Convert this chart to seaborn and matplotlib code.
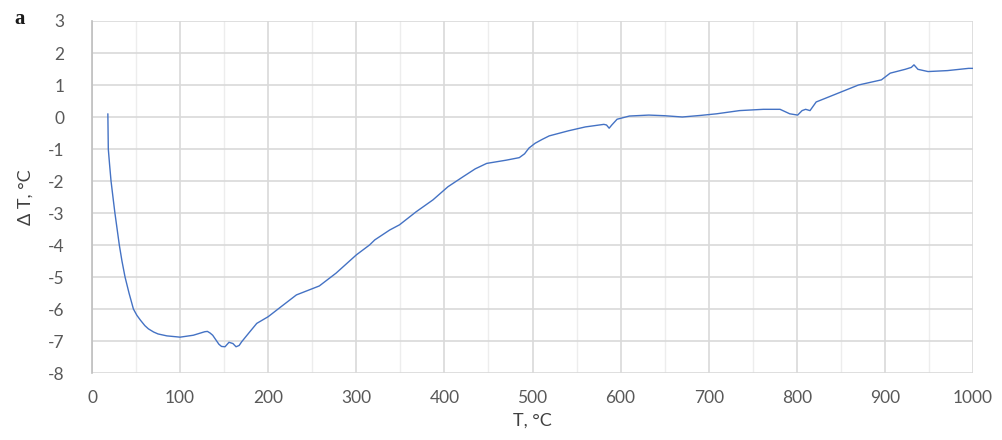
import matplotlib
matplotlib.use("Agg")
import matplotlib.pyplot as plt
import seaborn as sns
import pandas as pd
from matplotlib.ticker import MultipleLocator

# Data (T in degC, delta T in degC)
temperature = [18, 18.5, 20, 21.6, 24, 26, 28.5, 31, 34, 37.5, 42, 47, 51, 55, 60, 64,
               70, 75, 85, 100, 115, 128, 131, 134, 137, 140, 144, 147, 151, 155.5,
               160, 163.5, 167, 170, 178, 187, 200, 215, 232, 245, 258, 277, 300, 315,
               321, 338, 349, 368, 387, 404, 421, 435, 448, 470, 485, 491, 496, 503,
               511, 519, 541, 560, 581, 584, 587, 590, 596, 610, 632, 650, 670, 691,
               709, 735, 762, 781, 792, 801, 806, 810, 815, 822, 832, 851, 870, 896,
               906, 923, 930, 933, 937.5, 949, 971, 995, 1000]
delta_t = [0.1, -1.0, -1.5, -2.0, -2.55, -3.0, -3.5, -4.0, -4.5, -5.0, -5.5, -6.0,
           -6.2, -6.35, -6.52, -6.62, -6.72, -6.78, -6.84, -6.88, -6.82, -6.71,
           -6.7, -6.75, -6.82, -6.94, -7.1, -7.17, -7.18, -7.04, -7.08, -7.18,
           -7.14, -7.02, -6.75, -6.45, -6.24, -5.92, -5.56, -5.42, -5.28, -4.88,
           -4.31, -4.0, -3.84, -3.53, -3.37, -2.96, -2.59, -2.18, -1.87, -1.62,
           -1.45, -1.35, -1.27, -1.15, -0.97, -0.82, -0.7, -0.59, -0.43, -0.31,
           -0.23, -0.25, -0.35, -0.25, -0.07, 0.03, 0.06, 0.04, 0.0, 0.05, 0.1,
           0.2, 0.24, 0.24, 0.1, 0.06, 0.2, 0.24, 0.2, 0.47, 0.58, 0.79, 1.0,
           1.16, 1.37, 1.49, 1.55, 1.63, 1.49, 1.42, 1.45, 1.52, 1.52]

x_ticks = [0, 100, 200, 300, 400, 500, 600, 700, 800, 900, 1000]
y_ticks = [-8, -7, -6, -5, -4, -3, -2, -1, 0, 1, 2, 3]

df = pd.DataFrame({"T": temperature, "dT": delta_t})

sns.set_theme(style="white")
plt.rcParams['font.family'] = ['Lato', 'DejaVu Sans']

fig = plt.figure(figsize=(10.02, 4.40), dpi=100)
ax = fig.add_axes([92 / 1002, 1 - 373 / 440, (973 - 92) / 1002, (373 - 21) / 440])

sns.lineplot(data=df, x="T", y="dT", ax=ax, color="#4472C4", linewidth=1.0)

ax.set_xlim(0, 1000)
ax.set_ylim(-8, 3)
ax.set_xticks(x_ticks)
ax.set_yticks(y_ticks)
ax.set_xticklabels([str(v) for v in x_ticks])
ax.set_yticklabels([str(v) for v in y_ticks])
ax.xaxis.set_minor_locator(MultipleLocator(50))

ax.grid(which="major", axis="both", color="#D9D9D9", linewidth=1.2)
ax.grid(which="minor", axis="x", color="#EDEDED", linewidth=1.0)
ax.set_axisbelow(True)

for side in ["top", "right", "bottom"]:
    ax.spines[side].set_visible(False)
ax.spines["left"].set_color("#BFBFBF")
ax.spines["left"].set_linewidth(1.2)

ax.tick_params(axis="both", which="both", length=0, labelsize=12.5, labelcolor="#595959")
ax.tick_params(axis="y", pad=20)
ax.tick_params(axis="x", pad=12)

ax.set_xlabel("T, °C", fontsize=13, color="#404040", labelpad=5)
ax.set_ylabel("Δ T, °C", fontsize=13, color="#404040", labelpad=10)

fig.text(14 / 1002, 1 - 19 / 440, "a", fontsize=15, fontweight="bold",
         family="Liberation Serif", color="#1a1a1a", va="center", ha="left")

fig.savefig("out.png", dpi=100)
